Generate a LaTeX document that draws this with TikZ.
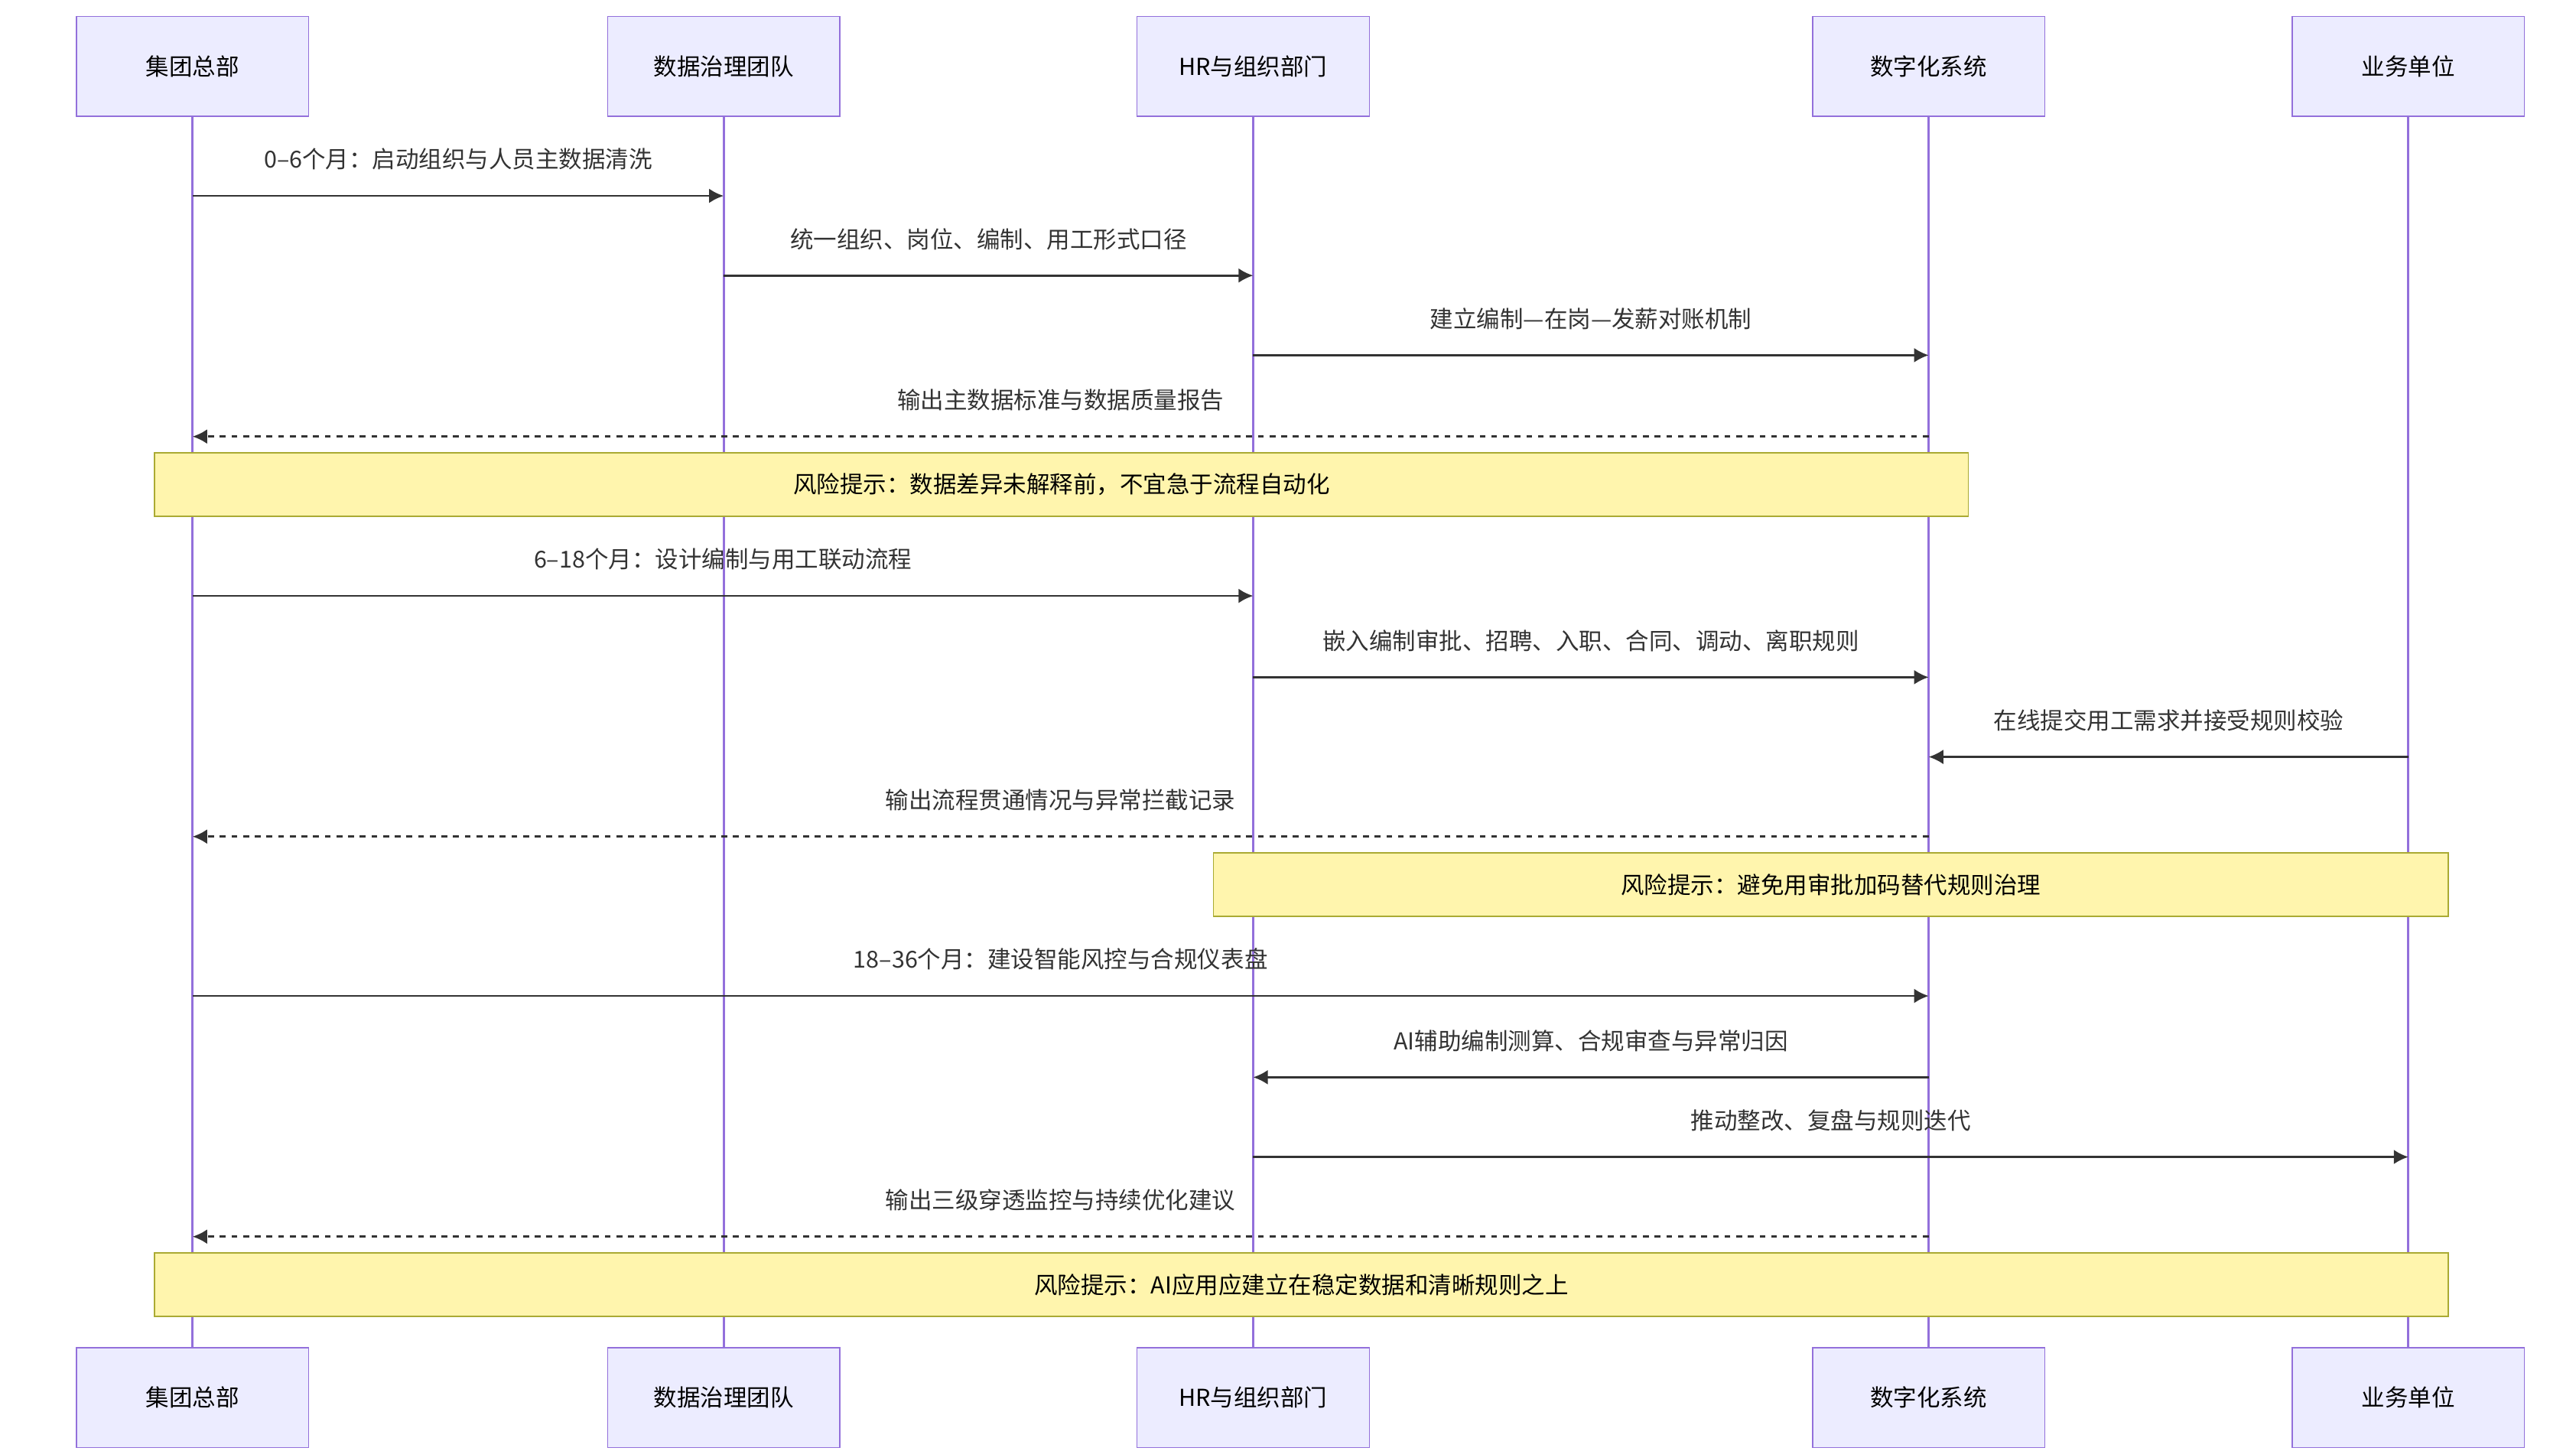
\documentclass[tikz,border=0pt]{standalone}
\usepackage{fontspec}
\setmainfont{Noto Sans CJK SC}
\usetikzlibrary{arrows.meta}
\definecolor{actfill}{HTML}{ECECFF}
\definecolor{actline}{HTML}{9370DB}
\definecolor{notefill}{HTML}{FFF5AD}
\definecolor{noteline}{HTML}{AAAA33}
\definecolor{msgline}{HTML}{333333}
\tikzset{
  actor/.style={draw=actline, fill=actfill, minimum width=2.8cm, minimum height=1.2cm,
    font=\fontsize{8}{10}\selectfont, inner sep=0pt},
  life/.style={actline, line width=0.8pt},
  msg/.style={msgline, line width=0.7pt, -{Latex[length=5pt,width=5pt]}},
  reply/.style={msg, dash pattern=on 2pt off 2pt},
  note/.style={draw=noteline, fill=notefill, line width=0.5pt},
  lbl/.style={font=\fontsize{8}{10}\selectfont, text=msgline, above=0.18cm}
}
% message between two lifelines at height y
\newcommand{\msgline}[5]{%
  \coordinate (#1-#3) at (#1.center |- 0,#3);
  \coordinate (#2-#3) at (#2.center |- 0,#3);
  \draw[#5] (#1-#3) -- node[lbl] {#4} (#2-#3);
}
\begin{document}
\begin{tikzpicture}[x=0.02cm, y=-0.02cm]
\useasboundingbox (0,0) rectangle (1552,874);
% actors
\foreach \nm/\x/\txt in {hq/116/集团总部, dg/436/数据治理团队, hr/755/HR与组织部门, sys/1162/数字化系统, bu/1451/业务单位}{
  \node[actor] (\nm) at (\x,40) {\txt};
  \node[actor] (\nm-b) at (\x,842) {\txt};
  \draw[life] (\nm) -- (\nm-b);
}
% phase 1
\msgline{hq}{dg}{118}{0--6个月：启动组织与人员主数据清洗}{msg}
\msgline{dg}{hr}{166}{统一组织、岗位、编制、用工形式口径}{msg}
\msgline{hr}{sys}{214}{建立编制—在岗—发薪对账机制}{msg}
\msgline{sys}{hq}{263}{输出主数据标准与数据质量报告}{reply}
\node[note, minimum width=21.86cm, minimum height=0.76cm, font=\fontsize{8}{10}\selectfont] (risk1) at (639.5,292) {风险提示：数据差异未解释前，不宜急于流程自动化};
% phase 2
\msgline{hq}{hr}{359}{6--18个月：设计编制与用工联动流程}{msg}
\msgline{hr}{sys}{408}{嵌入编制审批、招聘、入职、合同、调动、离职规则}{msg}
\msgline{bu}{sys}{456}{在线提交用工需求并接受规则校验}{msg}
\msgline{sys}{hq}{504}{输出流程贯通情况与异常拦截记录}{reply}
\node[note, minimum width=14.88cm, minimum height=0.76cm, font=\fontsize{8}{10}\selectfont] (risk2) at (1103,533) {风险提示：避免用审批加码替代规则治理};
% phase 3
\msgline{hq}{sys}{600}{18--36个月：建设智能风控与合规仪表盘}{msg}
\msgline{sys}{hr}{649}{AI辅助编制测算、合规审查与异常归因}{msg}
\msgline{hr}{bu}{697}{推动整改、复盘与规则迭代}{msg}
\msgline{sys}{hq}{745}{输出三级穿透监控与持续优化建议}{reply}
\node[note, minimum width=27.64cm, minimum height=0.76cm, font=\fontsize{8}{10}\selectfont] (risk3) at (784,774) {风险提示：AI应用应建立在稳定数据和清晰规则之上};
\end{tikzpicture}
\end{document}
